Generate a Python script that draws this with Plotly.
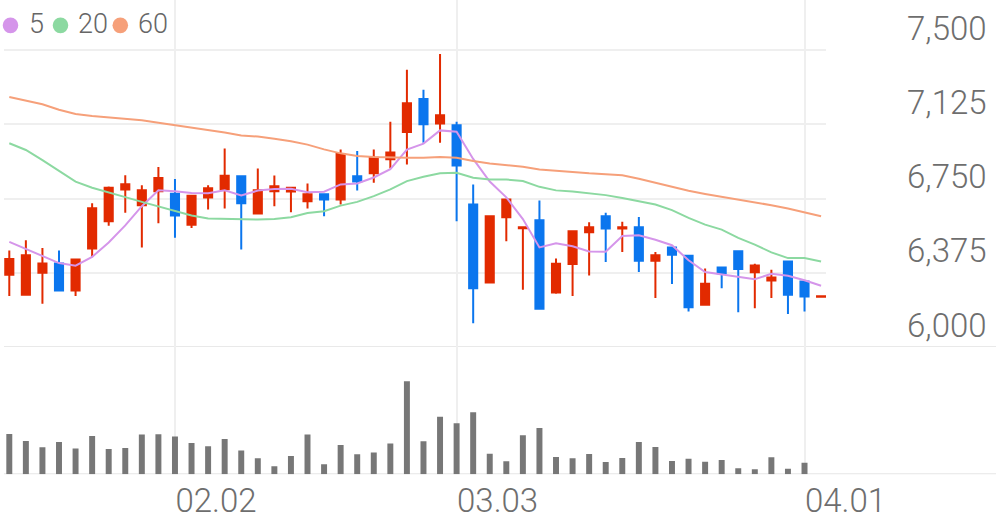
import plotly.graph_objects as go

# ---- data ----
dates = [
    "2026-01-19", "2026-01-20", "2026-01-21", "2026-01-22", "2026-01-23",
    "2026-01-26", "2026-01-27", "2026-01-28", "2026-01-29", "2026-01-30",
    "2026-02-02", "2026-02-03", "2026-02-04", "2026-02-05", "2026-02-06",
    "2026-02-09", "2026-02-10", "2026-02-11", "2026-02-12", "2026-02-13",
    "2026-02-19", "2026-02-20", "2026-02-23", "2026-02-24", "2026-02-25",
    "2026-02-26", "2026-02-27", "2026-03-03", "2026-03-04", "2026-03-05",
    "2026-03-06", "2026-03-09", "2026-03-10", "2026-03-11", "2026-03-12",
    "2026-03-13", "2026-03-16", "2026-03-17", "2026-03-18", "2026-03-19",
    "2026-03-20", "2026-03-23", "2026-03-24", "2026-03-25", "2026-03-26",
    "2026-03-27", "2026-03-30", "2026-03-31", "2026-04-01", "2026-04-02",
]

open_ = [6365, 6264, 6375, 6422, 6285, 6497, 6635, 6796, 6716, 6787,
         6774, 6618, 6755, 6797, 6863, 6674, 6787, 6785, 6736, 6772,
         6745, 6863, 6877, 6948, 7086, 7252, 7129, 7120, 6720, 6326,
         6655, 6600, 6640, 6275, 6419, 6579, 6660, 6598, 6605, 6436,
         6503, 6461, 6213, 6402, 6483, 6377, 6336, 6432, 6331, 6254]
high = [6488, 6539, 6500, 6488, 6442, 6726, 6810, 6868, 6817, 6909,
        6848, 6764, 6817, 7002, 6863, 6901, 6866, 6806, 6826, 6772,
        6998, 6990, 6998, 7137, 7400, 7299, 7480, 7137, 6821, 6660,
        6745, 6605, 6740, 6447, 6584, 6630, 6678, 6632, 6657, 6480,
        6503, 6461, 6397, 6405, 6483, 6421, 6390, 6432, 6331, 6256]
low = [6258, 6262, 6218, 6285, 6258, 6453, 6613, 6678, 6502, 6625,
       6552, 6601, 6695, 6699, 6492, 6672, 6711, 6680, 6699, 6660,
       6720, 6791, 6830, 6901, 6922, 7032, 7032, 6635, 6120, 6326,
       6534, 6289, 6193, 6269, 6258, 6361, 6429, 6480, 6379, 6247,
       6318, 6179, 6213, 6297, 6175, 6196, 6247, 6167, 6179, 6254]
close = [6444, 6463, 6422, 6285, 6442, 6701, 6804, 6822, 6792, 6853,
         6664, 6764, 6802, 6865, 6726, 6792, 6812, 6804, 6772, 6745,
         6975, 6836, 6956, 6982, 7231, 7125, 7171, 6917, 6297, 6660,
         6745, 6605, 6193, 6421, 6584, 6605, 6598, 6605, 6436, 6463,
         6466, 6201, 6319, 6373, 6394, 6412, 6351, 6264, 6255, 6256]

ma5 = [6531, 6495, 6458, 6424, 6411, 6455, 6528, 6614, 6711, 6792,
       6786, 6778, 6776, 6791, 6765, 6790, 6798, 6799, 6782, 6784,
       6821, 6826, 6856, 6898, 6997, 7027, 7094, 7087, 6950, 6836,
       6756, 6646, 6503, 6524, 6509, 6482, 6481, 6561, 6564, 6542,
       6514, 6438, 6379, 6366, 6353, 6342, 6370, 6360, 6337, 6309]
ma20 = [7029, 6995, 6944, 6889, 6835, 6804, 6779, 6757, 6733, 6711,
        6689, 6664, 6649, 6647, 6645, 6644, 6647, 6655, 6677, 6686,
        6714, 6733, 6762, 6796, 6838, 6860, 6877, 6880, 6855, 6846,
        6846, 6838, 6809, 6791, 6785, 6775, 6767, 6753, 6736, 6720,
        6691, 6652, 6618, 6593, 6551, 6517, 6478, 6449, 6449, 6432]
ma60 = [7263, 7243, 7226, 7198, 7177, 7167, 7160, 7155, 7145, 7133,
        7121, 7108, 7096, 7083, 7068, 7063, 7052, 7039, 7022, 6998,
        6978, 6965, 6959, 6956, 6956, 6956, 6959, 6956, 6939, 6927,
        6919, 6910, 6897, 6889, 6884, 6877, 6872, 6867, 6850, 6830,
        6808, 6789, 6773, 6759, 6745, 6731, 6716, 6699, 6681, 6660]

volume = [40300, 33300, 27000, 32300, 25700, 38300, 25300, 26300, 39700, 40000,
          37700, 31300, 28000, 35300, 23700, 16000, 8000, 18300, 39700, 10000,
          29300, 20000, 21700, 30700, 93000, 33000, 57600, 51000, 62000, 20600,
          13000, 39000, 46300, 17300, 16000, 20300, 12300, 16300, 32300, 27300,
          13300, 15600, 12600, 14300, 6000, 5000, 17000, 5600, 11600, 0]

price_ticks = [6000, 6375, 6750, 7125, 7500]
date_ticks = ["2026-02-02", "2026-03-03", "2026-04-01"]
date_tick_text = ["02.02", "03.03", "04.01"]
ma_names = ["5", "20", "60"]

# ---- styles ----
W, H = 996, 519
RED, BLUE = "#e22a00", "#0b76ee"
MA_COLORS = ["#d595ea", "#8cd9a1", "#f6a07a"]
GRID = "#efefef"
LABEL = "#6e6e6e"
FONT = "Roboto"

fig = go.Figure()

for name, vals, col in zip(ma_names, [ma5, ma20, ma60], MA_COLORS):
    fig.add_trace(go.Scatter(x=dates, y=vals, mode="lines", name=name,
                             line=dict(color=col, width=2), showlegend=False,
                             hoverinfo="skip", xaxis="x", yaxis="y"))

fig.add_trace(go.Candlestick(
    x=dates, open=open_, high=high, low=low, close=close,
    increasing=dict(line=dict(color=RED, width=2), fillcolor=RED),
    decreasing=dict(line=dict(color=BLUE, width=2), fillcolor=BLUE),
    showlegend=False, xaxis="x", yaxis="y"))

fig.add_trace(go.Bar(x=dates, y=volume, marker=dict(color="#777777", line=dict(width=0)),
                     width=0.36, showlegend=False, xaxis="x2", yaxis="y2"))

px_per_won = 0.198
y_sep = 347
y_base = 474.3
x_left, x_right = 4, 826
x0_px, step = 9.3, 16.567

xrange = [(x_left - x0_px) / step, (x_right - x0_px) / step]
xdom = [x_left / W, x_right / W]

fig.update_layout(
    template="none",
    width=W, height=H, margin=dict(l=0, r=0, t=0, b=0, pad=0),
    paper_bgcolor="white", plot_bgcolor="white",
    boxgap=0.3, boxgroupgap=0.3,
    font=dict(family=FONT, color=LABEL),
    showlegend=False,
    xaxis=dict(domain=xdom, type="category", range=xrange, anchor="y", automargin=False,
               showticklabels=False, showgrid=True, gridcolor=GRID, gridwidth=2,
               tickvals=date_ticks, ticks="", zeroline=False, showline=False,
               rangeslider=dict(visible=False), fixedrange=True),
    yaxis=dict(domain=[(H - y_sep) / H, 1], range=[6000, 6000 + y_sep / px_per_won],
               side="right", anchor="x", automargin=False,
               tickvals=price_ticks, tickformat=",d",
               tickfont=dict(size=33, color=LABEL, family=FONT, weight=300),
               ticklabelstandoff=80, ticklabelshift=-22, ticks="",
               showgrid=True, gridcolor=GRID, gridwidth=2, zeroline=False, showline=False),
    xaxis2=dict(domain=xdom, type="category", range=xrange, anchor="y2", matches="x",
                automargin=False, showgrid=True, gridcolor=GRID, gridwidth=2,
                tickvals=date_ticks, ticktext=date_tick_text, ticks="",
                tickfont=dict(size=33, color=LABEL, family=FONT, weight=300),
                ticklabelshift=41, ticklabelstandoff=4,
                zeroline=False, showline=False),
    yaxis2=dict(domain=[(H - y_base) / H, (H - y_sep) / H],
                range=[0, (y_base - y_sep) * 1000], anchor="x2", automargin=False,
                showgrid=False, showticklabels=False, zeroline=False, showline=False),
)

# separator line and volume baseline
fig.add_shape(type="line", xref="paper", yref="y", x0=x_left / W, x1=1, y0=6000, y1=6000,
              line=dict(color="#e9e9e9", width=2), layer="below")
fig.add_shape(type="line", xref="paper", yref="y2", x0=x_left / W, x1=1, y0=0, y1=0,
              line=dict(color="#e6e6e6", width=2), layer="below")

# legend: coloured dots + labels
dot_cx = [10.5, 60.5, 120.3]
txt_x = [27, 76, 136]
for cx, tx, name, col in zip(dot_cx, txt_x, ma_names, MA_COLORS):
    fig.add_shape(type="circle", xref="paper", yref="paper",
                  x0=(cx - 7.8) / W, x1=(cx + 7.8) / W,
                  y0=1 - 33.2 / H, y1=1 - 17.4 / H,
                  fillcolor=col, line=dict(width=0))
    fig.add_annotation(xref="paper", yref="paper", x=tx / W, y=1 - 24.5 / H,
                       xanchor="left", yanchor="middle", showarrow=False,
                       text=name, font=dict(size=27, color="#666666", family=FONT, weight=300))

fig.write_html("out.html", config={"displayModeBar": False, "staticPlot": True},
               post_script="document.body.style.margin='0';document.body.style.overflow='hidden';")
